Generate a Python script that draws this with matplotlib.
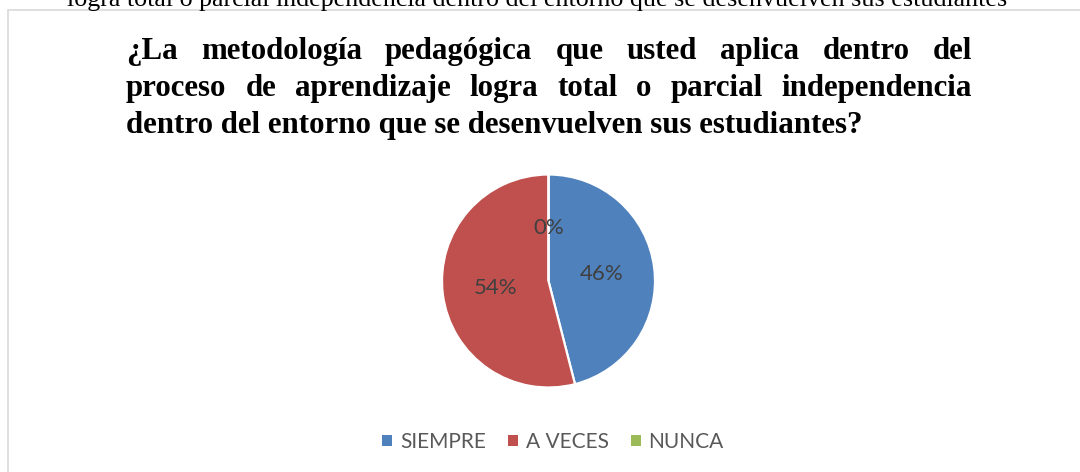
import matplotlib
matplotlib.use('Agg')
import matplotlib.pyplot as plt
from matplotlib.patches import Patch, Rectangle

# Data
categories = ["SIEMPRE", "A VECES", "NUNCA"]
values = [46, 54, 0]
colors = ["#4F81BD", "#C0504D", "#9BBB59"]

title_lines = [
    "¿La metodología pedagógica que usted aplica dentro del",
    "proceso de aprendizaje logra total o parcial independencia",
    "dentro del entorno que se desenvuelven sus estudiantes?",
]
top_text = "logra total o parcial independencia dentro del entorno que se desenvuelven sus estudiantes"

W, H = 1080, 472
fig = plt.figure(figsize=(W / 100, H / 100), dpi=100)
fig.patch.set_facecolor('white')


def fx(x):
    return x / W


def fy(y):
    return 1 - y / H


renderer = fig.canvas.get_renderer()


def text_width(s, **kw):
    t = fig.text(0, 0, s, **kw)
    w = t.get_window_extent(renderer).width
    t.remove()
    return w


# Chart border (extends past right/bottom edge)
fig.patches.append(Rectangle((fx(8), fy(H + 20)), fx(W + 40), (H + 10.5) / H,
                             transform=fig.transFigure, fill=False,
                             edgecolor='#D9D9D9', linewidth=1.2))

# Cropped text line above the chart (cut off in the reference too)
serif = ['Liberation Serif', 'DejaVu Serif']
w0 = text_width(top_text, family=serif, fontsize=20)
top_size = 20 * 940 / w0
fig.text(fx(67), fy(6), top_text, family=serif, fontsize=top_size,
         ha='left', va='baseline', color='black')

# Justified bold title
left, right = 126, 972
w3 = text_width(title_lines[2], family=serif, fontsize=20, fontweight='bold')
tsize = 20 * (864 - 126) / w3
baselines = [59, 96, 133]
for i, line in enumerate(title_lines):
    if i == len(title_lines) - 1:
        fig.text(fx(left), fy(baselines[i]), line, family=serif, fontsize=tsize,
                 fontweight='bold', ha='left', va='baseline')
        continue
    words = line.split()
    widths = [text_width(wd, family=serif, fontsize=tsize, fontweight='bold') for wd in words]
    gap = (right - left - sum(widths)) / (len(words) - 1)
    x = left
    for wd, ww in zip(words, widths):
        fig.text(fx(x), fy(baselines[i]), wd, family=serif, fontsize=tsize,
                 fontweight='bold', ha='left', va='baseline')
        x += ww + gap

# Pie
cx, cy, r = 548.5, 281, 106.5
ax = fig.add_axes([fx(cx - r), fy(cy + r), 2 * r / W, 2 * r / H])
wedges, texts, autotexts = ax.pie(
    values, colors=colors, startangle=90, counterclock=False,
    autopct='%.0f%%', pctdistance=0.5,
    wedgeprops=dict(edgecolor='white', linewidth=1.6),
    textprops=dict(color='#404040', fontsize=16, family=['Lato', 'DejaVu Sans']))
ax.set_xlim(-1, 1)
ax.set_ylim(-1, 1)
ax.set_aspect('equal')
for t in autotexts:
    t.set_clip_on(False)

# Legend
handles = [Patch(facecolor=c, edgecolor='none') for c in colors]
fig.legend(handles, categories, loc='center', bbox_to_anchor=(fx(553), fy(442)),
           ncol=3, frameon=False,
           prop=dict(family=['Lato', 'DejaVu Sans'], size=15),
           handlelength=0.48, handleheight=0.48, handletextpad=0.38,
           columnspacing=1.05, labelcolor='#595959',
           borderpad=0, borderaxespad=0)

fig.savefig('out.png', dpi=100)
